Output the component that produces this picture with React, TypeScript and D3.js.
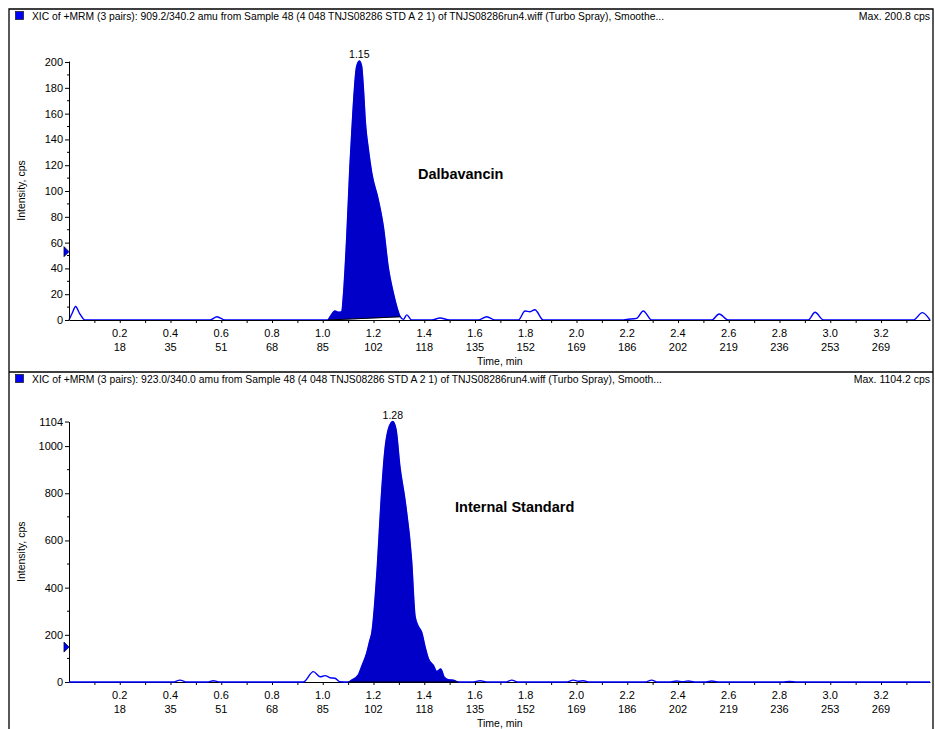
import React, { useEffect, useRef } from 'react';
import * as d3 from 'd3';

// x axis: time (min) labels and matching scan numbers
const timeLabels = [0.2, 0.4, 0.6, 0.8, 1.0, 1.2, 1.4, 1.6, 1.8, 2.0, 2.2, 2.4, 2.6, 2.8, 3.0, 3.2];
const scanLabels = ['18', '35', '51', '68', '85', '102', '118', '135', '152', '169', '186', '202', '219', '236', '253', '269'];
const timeMax = 3.393;

// Dalbavancin XIC 909.2/340.2
const dalTime = [0, 0.012, 0.026, 0.042, 0.063, 0.556, 0.583, 0.615, 1.0, 1.02, 1.029, 1.048, 1.062, 1.075, 1.081, 1.094, 1.107, 1.12, 1.133, 1.144, 1.153, 1.16, 1.168, 1.18, 1.193, 1.219, 1.239, 1.258, 1.278, 1.304, 1.318, 1.331, 1.35, 1.43, 1.462, 1.5, 1.613, 1.646, 1.679, 1.771, 1.797, 1.817, 1.836, 1.869, 2.18, 2.198, 2.237, 2.263, 2.296, 2.533, 2.562, 2.598, 2.913, 2.94, 2.973, 3.327, 3.363, 3.393];
const dalInt = [0, 5, 10.5, 5, 0, 0, 2.5, 0, 0, 0, 2.5, 7, 6, 6.5, 18, 62, 119, 165, 196, 200.8, 197, 180, 153, 132, 114, 93, 72, 41, 21, 3, 0.5, 4, 0, 0, 1.5, 0, 0, 2.5, 0, 0, 7, 6.4, 8, 0, 0, 0.5, 1.3, 7, 0, 0, 4.6, 0, 0, 6, 0, 0, 5.7, 0];
const dalYTicks = [0, 20, 40, 60, 80, 100, 120, 140, 160, 180, 200];
const dalYMinor = [10, 30, 50, 70, 90, 110, 130, 150, 170, 190];

// Internal standard XIC 923.0/340.0
const isTime = [0, 0.41, 0.437, 0.465, 0.545, 0.569, 0.595, 0.923, 0.963, 0.99, 1.009, 1.029, 1.048, 1.068, 1.101, 1.114, 1.14, 1.153, 1.173, 1.186, 1.193, 1.215, 1.23, 1.245, 1.258, 1.276, 1.289, 1.304, 1.324, 1.35, 1.364, 1.377, 1.39, 1.403, 1.416, 1.436, 1.449, 1.465, 1.478, 1.495, 1.514, 1.534, 1.59, 1.62, 1.65, 1.72, 1.745, 1.77, 1.96, 1.987, 2.007, 2.027, 2.05, 2.27, 2.296, 2.32, 2.37, 2.395, 2.418, 2.44, 2.465, 2.51, 2.533, 2.556, 2.81, 2.84, 2.87, 3.393];
const isInt = [0, 0, 8, 0, 0, 5, 0, 0, 44, 22, 27, 18, 16, 1, 0, 8, 30, 65, 122, 178, 206, 489, 771, 983, 1069, 1104, 1069, 913, 772, 517, 277, 235, 210, 150, 100, 70, 45, 55, 22, 10, 8, 0, 0, 5, 0, 0, 8, 0, 0, 8, 3, 5, 0, 0, 8, 0, 0, 4, 1, 4, 0, 0, 4, 0, 0, 2, 0, 0];
const isYTicks = [0, 200, 400, 600, 800, 1000, 1104];
const isYMinor = [100, 300, 500, 700, 900];

const font = 'Liberation Sans, Arial, sans-serif';

function Panel(props) {
  const ref = useRef(null);

  useEffect(() => {
    const g = d3.select(ref.current);
    g.selectAll('*').remove();
    const top = props.top;

    const x = d3.scaleLinear().domain([0, timeMax]).range([69, 930]);
    const y = d3.scaleLinear().domain([0, props.yMax]).range([props.y0, props.y1]);
    const pts = props.times.map((t, i) => ({ t: t, v: props.values[i] }));

    // header
    g.append('rect').attr('x', 15.5).attr('y', top + 2.5).attr('width', 8).attr('height', 8)
      .attr('fill', '#0000ff').attr('stroke', '#222').attr('stroke-width', 0.8);
    g.append('text').attr('x', 32).attr('y', top + 11)
      .attr('font-size', 10.5).attr('textLength', props.headerWidth).attr('lengthAdjust', 'spacingAndGlyphs')
      .text(props.header);
    g.append('text').attr('x', 930).attr('y', top + 11).attr('text-anchor', 'end')
      .attr('font-size', 10.5).text(props.maxLabel);

    const line = d3.line().x(d => x(d.t)).y(d => y(d.v)).curve(d3.curveMonotoneX);
    const base = t => props.baseEnd * (t - props.peakStart) / (props.peakEnd - props.peakStart);
    const area = d3.area().x(d => x(d.t)).y0(d => y(base(d.t))).y1(d => y(d.v)).curve(d3.curveMonotoneX);
    const peakPts = pts.filter(d => d.t >= props.peakStart && d.t <= props.peakEnd);

    const drawAxes = () => {
      const xa = g.append('g').attr('transform', 'translate(0,' + props.y0 + ')');
      xa.call(d3.axisBottom(x).tickValues(d3.range(1, 34).map(i => i / 10)).tickSize(3).tickSizeOuter(0).tickFormat(() => ''));
      xa.selectAll('path,line').attr('stroke', '#000');
      const yl = g.append('g').attr('transform', 'translate(69,0)');
      yl.call(d3.axisLeft(y).tickValues(props.yTicks).tickSize(4).tickSizeOuter(0).tickPadding(2).tickFormat(d3.format('d')));
      yl.selectAll('path,line').attr('stroke', '#000');
      yl.selectAll('text').attr('font-size', 11).attr('font-family', font).attr('fill', '#000');
      yl.selectAll('.minor').data(props.yMinor).enter().append('line')
        .attr('x1', -2).attr('x2', 0).attr('y1', d => y(d)).attr('y2', d => y(d)).attr('stroke', '#000');
    };

    if (!props.lineOnTop) drawAxes();
    g.append('path').datum(pts).attr('d', line).attr('fill', 'none').attr('stroke', '#0000ff').attr('stroke-width', 1.4);
    g.append('path').datum(peakPts).attr('d', area).attr('fill', '#0000c8').attr('stroke', '#0000c8').attr('stroke-width', 0.5);
    if (props.lineOnTop) drawAxes();
    g.append('line').attr('x1', x(props.peakStart)).attr('x2', x(props.peakEnd))
      .attr('y1', y(0)).attr('y2', y(props.baseEnd)).attr('stroke', '#000').attr('stroke-width', 1);

    // x labels
    g.selectAll('.tl').data(timeLabels).enter().append('text')
      .attr('x', d => x(d)).attr('y', props.y0 + 17).attr('text-anchor', 'middle').attr('font-size', 11)
      .text(d => d.toFixed(1));
    g.selectAll('.sl').data(scanLabels).enter().append('text')
      .attr('x', (d, i) => x(timeLabels[i])).attr('y', props.y0 + 31).attr('text-anchor', 'middle').attr('font-size', 11)
      .text(d => d);
    g.append('text').attr('x', 477).attr('y', props.y0 + 45).attr('font-size', 10.5).text('Time, min');
    g.append('text').attr('transform', 'translate(25,' + ((props.y0 + props.y1) / 2) + ') rotate(-90)')
      .attr('text-anchor', 'middle').attr('font-size', 10.5).text('Intensity, cps');

    // threshold marker on y axis
    const my = y(props.marker);
    g.append('path').attr('d', 'M64,' + (my - 5) + 'L69,' + my + 'L64,' + (my + 5) + 'Z')
      .attr('fill', '#0000ff').attr('stroke', '#000033').attr('stroke-width', 0.8);

    // apex label and compound name
    const apex = pts.reduce((a, b) => (b.v > a.v ? b : a));
    g.append('text').attr('x', x(apex.t)).attr('y', y(apex.v) - 3).attr('text-anchor', 'middle')
      .attr('font-size', 10.5).text(props.apexLabel);
    g.append('text').attr('x', props.nameX).attr('y', props.nameY).attr('font-size', 14.5)
      .attr('font-weight', 'bold').text(props.name);
  }, [props]);

  return <g ref={ref} fontFamily={font} fill="#000" />;
}

export default function App() {
  return (
    <svg width={935} height={729} style={{ position: 'absolute', left: 0, top: 0, background: '#fff' }}>
      <rect x={0} y={0} width={935} height={729} fill="#fff" />
      <Panel
        top={9}
        header="XIC of +MRM (3 pairs): 909.2/340.2 amu from Sample 48 (4 048 TNJS08286 STD A 2 1) of TNJS08286run4.wiff (Turbo Spray), Smoothe..."
        headerWidth={632}
        maxLabel="Max. 200.8 cps"
        times={dalTime}
        values={dalInt}
        yMax={200.8}
        y0={320}
        y1={61}
        yTicks={dalYTicks}
        yMinor={dalYMinor}
        peakStart={1.02}
        peakEnd={1.305}
        baseEnd={2.5}
        marker={53}
        apexLabel="1.15"
        name="Dalbavancin"
        nameX={418}
        nameY={179}
        lineOnTop={true}
      />
      <Panel
        top={372}
        header="XIC of +MRM (3 pairs): 923.0/340.0 amu from Sample 48 (4 048 TNJS08286 STD A 2 1) of TNJS08286run4.wiff (Turbo Spray), Smooth..."
        headerWidth={630}
        maxLabel="Max. 1104.2 cps"
        times={isTime}
        values={isInt}
        yMax={1104.2}
        y0={682}
        y1={421.5}
        yTicks={isYTicks}
        yMinor={isYMinor}
        peakStart={1.101}
        peakEnd={1.534}
        baseEnd={0}
        marker={148}
        apexLabel="1.28"
        name="Internal Standard"
        nameX={455}
        nameY={512}
        lineOnTop={false}
      />
      <path d="M9,729V9H933V729M9,372H933" fill="none" stroke="#000" strokeWidth={1.3} />
    </svg>
  );
}
